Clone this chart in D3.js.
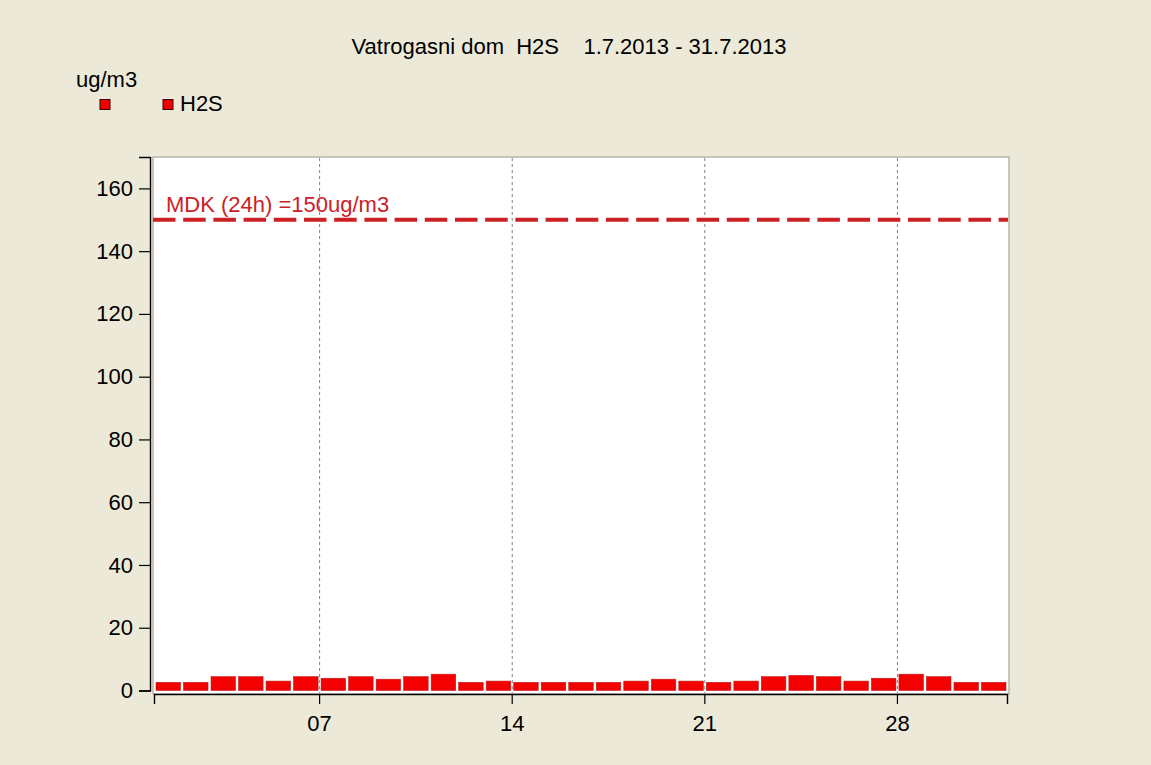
<!DOCTYPE html>
<html>
<head>
<meta charset="utf-8">
<script src="https://cdn.jsdelivr.net/npm/d3@7"></script>
<style>
  body { margin: 0; background: #ece9d8; }
  svg { display: block; font-family: "Liberation Sans", Arial, sans-serif; }
</style>
</head>
<body>
<svg width="1151" height="765"></svg>
<script>
// data: daily H2S averages, July 2013
let days = d3.range(1, 32);
let h2s = [2.6, 2.6, 4.4, 4.4, 3.0, 4.4, 3.9, 4.4, 3.6, 4.4,
           5.2, 2.6, 3.0, 2.6, 2.6, 2.6, 2.6, 3.0, 3.6, 3.0,
           2.6, 3.0, 4.4, 4.8, 4.4, 3.0, 3.9, 5.2, 4.4, 2.6, 2.6];
let xTicks = [7, 14, 21, 28];
let xTickLabels = ["07", "14", "21", "28"];
let yTicks = [0, 20, 40, 60, 80, 100, 120, 140, 160];
let limitValue = 150;
let limitLabel = "MDK (24h) =150ug/m3";
let title = "Vatrogasni dom  H2S    1.7.2013 - 31.7.2013";
let unit = "ug/m3";
let seriesName = "H2S";

let svg = d3.select("svg");
let box = {left: 153, right: 1009, top: 157, bottom: 694};
let fs = 22;

let x = d3.scaleLinear().domain([1, 32]).range([154, 1007]);
let y = d3.scaleLinear().domain([0, 170]).range([690.5, 157]);

// plot area
svg.append("rect")
    .attr("x", box.left).attr("y", box.top)
    .attr("width", box.right - box.left).attr("height", box.bottom - box.top)
    .attr("fill", "#ffffff")
    .attr("stroke", "#b8b5a8").attr("stroke-width", 1.5);

// vertical grid
svg.append("g").selectAll("line")
    .data(xTicks)
    .enter().append("line")
      .attr("x1", d => x(d) + 0.5).attr("x2", d => x(d) + 0.5)
      .attr("y1", box.top + 1).attr("y2", box.bottom - 1)
      .attr("stroke", "#808080").attr("stroke-width", 1)
      .attr("stroke-dasharray", "3,3");

// bars
svg.append("g").selectAll("rect")
    .data(days)
    .enter().append("rect")
      .attr("x", d => x(d) + 2)
      .attr("width", d => x(d + 1) - x(d) - 3)
      .attr("y", (d, i) => y(h2s[i]))
      .attr("height", (d, i) => y(0) - y(h2s[i]))
      .attr("fill", "#f40000")
      .attr("stroke", "#c01818").attr("stroke-width", 0.6);

// limit line
svg.append("line")
    .attr("x1", box.left).attr("x2", box.right - 1)
    .attr("y1", y(limitValue)).attr("y2", y(limitValue))
    .attr("stroke", "#cc2026").attr("stroke-width", 4)
    .attr("stroke-dasharray", "22.5,7.7");

svg.append("text")
    .attr("x", 166).attr("y", 212)
    .attr("fill", "#cc2026").attr("font-size", fs)
    .text(limitLabel);

// y axis
let yAxis = d3.axisLeft(y).tickValues(yTicks).tickSize(11).tickSizeOuter(11).tickPadding(6);
let gy = svg.append("g").attr("transform", "translate(150,0)").call(yAxis);
gy.select(".domain").attr("stroke", "#000").attr("stroke-width", 1.4);
gy.selectAll(".tick line").attr("stroke", "#000").attr("stroke-width", 1.2);
gy.selectAll("text").attr("font-size", fs).attr("fill", "#000")
    .attr("font-family", "'Liberation Sans', Arial, sans-serif");

// x axis
let xAxis = d3.axisBottom(x).tickValues(xTicks).tickFormat((d, i) => xTickLabels[i])
    .tickSize(10).tickSizeOuter(10).tickPadding(11);
let gx = svg.append("g").attr("transform", "translate(0,694)").call(xAxis);
gx.select(".domain").attr("stroke", "#000").attr("stroke-width", 1.4);
gx.selectAll(".tick line").attr("stroke", "#000").attr("stroke-width", 1.2);
gx.selectAll("text").attr("font-size", fs).attr("fill", "#000")
    .attr("font-family", "'Liberation Sans', Arial, sans-serif");

// title
svg.append("text")
    .attr("x", 569).attr("y", 54)
    .attr("text-anchor", "middle").attr("font-size", fs)
    .style("white-space", "pre")
    .text(title);

// unit + legend
svg.append("text").attr("x", 76).attr("y", 87).attr("font-size", fs).text(unit);
svg.append("rect").attr("x", 100).attr("y", 99.5).attr("width", 10).attr("height", 10)
    .attr("fill", "#f00000").attr("stroke", "#400000").attr("stroke-width", 1);
svg.append("rect").attr("x", 163).attr("y", 99.5).attr("width", 10).attr("height", 10)
    .attr("fill", "#f00000").attr("stroke", "#400000").attr("stroke-width", 1);
svg.append("text").attr("x", 180).attr("y", 111).attr("font-size", fs).text(seriesName);
</script>
</body>
</html>
